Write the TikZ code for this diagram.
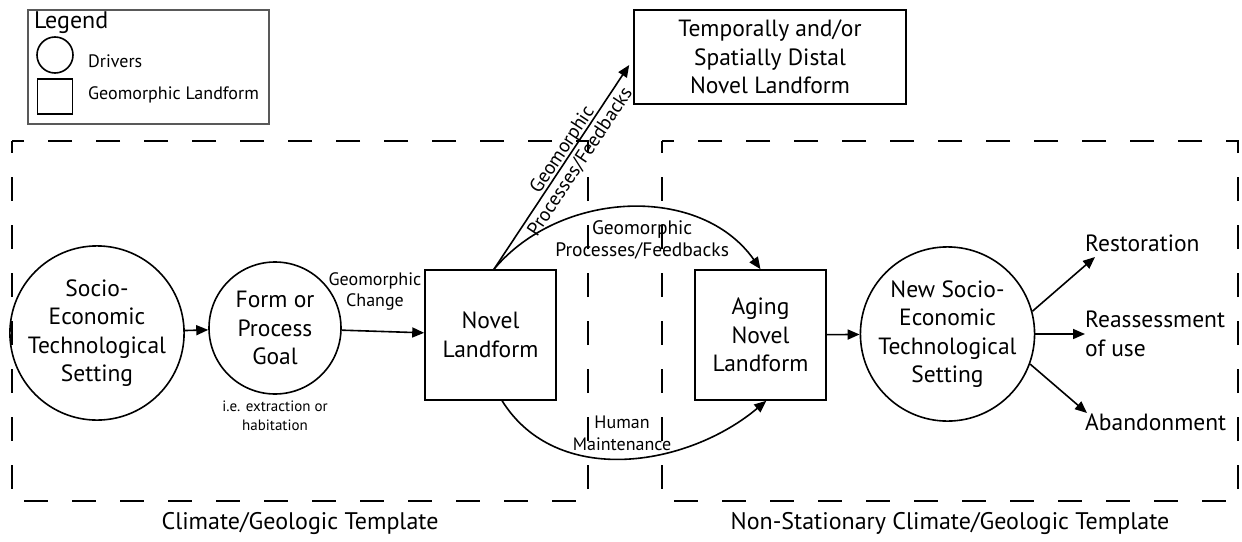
\documentclass[tikz,border=0pt]{standalone}
\usepackage{fontspec}
\setmainfont{PT Sans}
\usetikzlibrary{arrows.meta}
\tikzset{
  arr/.style={-{Triangle[length=12pt,width=10pt]}, line width=1.6pt},
  drv/.style={circle, draw, line width=1.6pt, align=center, inner sep=0pt},
  lf/.style={rectangle, draw, line width=1.6pt, align=center, inner sep=0pt},
  lbl/.style={inner sep=0pt, align=center},
  big/.style={font=\fontsize{23.5}{28.5}\selectfont},
  mid/.style={font=\fontsize{19.5}{21.5}\selectfont},
  sml/.style={font=\fontsize{18}{21.5}\selectfont},
  tny/.style={font=\fontsize{15}{18.5}\selectfont},
  tmpl/.style={font=\fontsize{24}{28}\selectfont},
  dbox/.style={draw, line width=1.6pt, dash pattern=on 24pt off 24pt, dash phase=12pt},
}
\begin{document}
\begin{tikzpicture}[x=1pt,y=1pt]
\useasboundingbox (0,0) rectangle (1242,-541);
% legend
\node[draw=black!65, line width=1.5pt, minimum width=241pt, minimum height=114pt, anchor=north west, inner sep=0pt] (legend) at (27,-9) {};
\node[lbl, anchor=west, font=\fontsize{24}{28}\selectfont] (legtitle) at (34,-23) {Legend};
\node[drv, minimum size=36pt] (legcirc) at (55,-55) {};
\node[lbl, anchor=west, sml] (legdrv) at (88,-61) {Drivers};
\node[lf, minimum size=35pt] (legsq) at (55,-96.5) {};
\node[lbl, anchor=west, sml] (leglf) at (88,-95) {Geomorphic Landform};
% dashed templates
\draw[dbox] (12,-141) rectangle (588,-501);
\draw[dbox] (662,-141) rectangle (1238,-501);
\node[lbl, tmpl] (tmpl1) at (300,-523) {Climate/Geologic Template};
\node[lbl, tmpl] (tmpl2) at (950,-523) {Non-Stationary Climate/Geologic Template};
% main nodes
\node[drv, minimum size=162pt, big] (c1) at (97,-333) {Socio-\\Economic\\Technological\\Setting};
\node[drv, minimum size=132pt, big] (c2) at (275,-328) {Form or\\Process\\Goal};
\node[lbl, tny] (ie) at (275,-416) {i.e. extraction or\\habitation};
\node[lf, minimum width=131pt, minimum height=130pt, big] (nl) at (490.5,-335) {Novel\\Landform};
\node[lf, minimum width=131pt, minimum height=130pt, big] (aging) at (760.5,-335) {Aging\\Novel\\Landform};
\node[drv, minimum size=162pt, big] (ns) at (947.5,-334) {New Socio-\\Economic\\Technological\\Setting};
\node[lf, minimum width=272pt, minimum height=94pt, big] (temp) at (770,-57) {Temporally and/or\\Spatially Distal\\Novel Landform};
\node[lbl, anchor=west, big] (rest) at (1085,-243) {Restoration};
\node[lbl, anchor=west, align=left, big] (reas) at (1085,-334) {Reassessment\\of use};
\node[lbl, anchor=west, big] (aband) at (1085,-422) {Abandonment};
% connectors
\draw[arr] (c1) -- (c2);
\draw[arr] (c2) -- (nl) node[lbl, sml, midway, yshift=40pt, xshift=-8pt] {Geomorphic\\Change};
\draw[arr] (aging) -- (ns);
\draw[arr] (nl.87) -- ([shift={(-4pt,-8pt)}]temp.west)
  node[lbl, mid, pos=0.56, sloped, yshift=-2pt] {Geomorphic\\Processes/Feedbacks};
\draw[arr] (nl.87) to[out=50, in=125]
  node[lbl, mid, pos=0.55, anchor=north, yshift=-12pt, xshift=-3pt] {Geomorphic\\Processes/Feedbacks} (aging.north);
\draw[arr] (nl.-80) to[out=-58, in=-140]
  node[lbl, sml, pos=0.5, anchor=south, yshift=7pt, xshift=-3pt] {Human\\Maintenance} (aging.-85);
\draw[arr] (ns.15) -- ([shift={(10pt,-14pt)}]rest.west);
\draw[arr] (ns) -- (reas.west);
\draw[arr] (ns.-20) -- ([shift={(2pt,9pt)}]aband.west);
\end{tikzpicture}
\end{document}
